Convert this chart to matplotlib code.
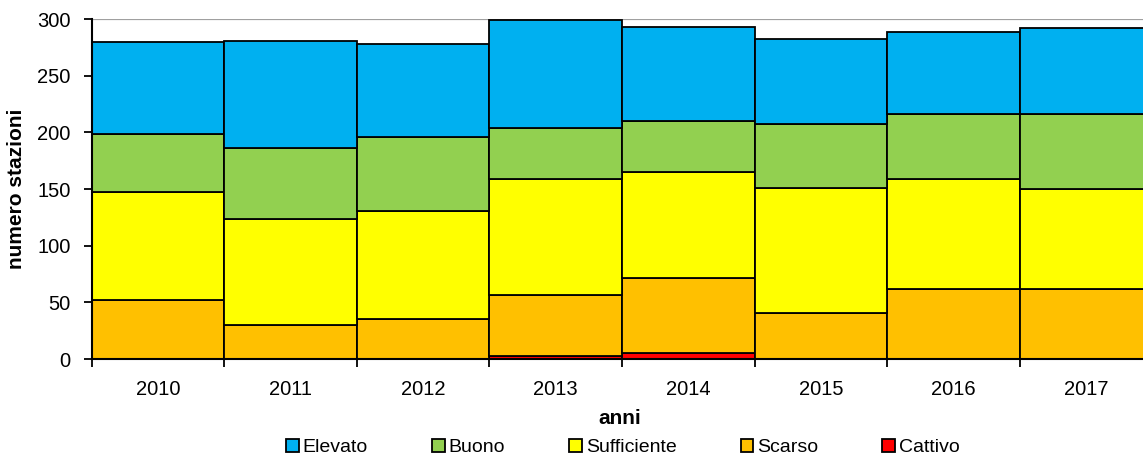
import matplotlib
matplotlib.use('Agg')
import matplotlib.pyplot as plt
import numpy as np

plt.rcParams['font.family'] = ['Liberation Sans', 'DejaVu Sans']

# Data
anni = ['2010', '2011', '2012', '2013', '2014', '2015', '2016', '2017']
cattivo = [0, 0, 0, 3, 5, 0, 0, 0]
scarso = [52, 30, 35, 54, 67, 41, 62, 62]
sufficiente = [95, 94, 96, 102, 93, 110, 97, 88]
buono = [52, 62, 65, 45, 45, 56, 57, 66]
elevato = [81, 95, 82, 95, 83, 75, 73, 76]

series = [
    ('Cattivo', cattivo, '#FF0000'),
    ('Scarso', scarso, '#FFC000'),
    ('Sufficiente', sufficiente, '#FFFF00'),
    ('Buono', buono, '#92D050'),
    ('Elevato', elevato, '#00B0F0'),
]

fig = plt.figure(figsize=(11.43, 4.54), dpi=100)
ax = fig.add_axes([0.0802, 0.209, 0.928, 0.749])

x = np.arange(len(anni))
bottom = np.zeros(len(anni))
handles = {}
for name, vals, col in series:
    b = ax.bar(x, vals, width=1.0, bottom=bottom, color=col,
               edgecolor='black', linewidth=1.3, label=name, zorder=2)
    handles[name] = b
    bottom += np.array(vals)

ax.set_xlim(-0.5, len(anni) - 0.5)
ax.set_ylim(0, 300)
ax.axhline(300, color='#a0a0a0', lw=1.6, zorder=1)

ax.set_yticks([0, 50, 100, 150, 200, 250, 300])
ax.set_xticks(x)
ax.set_xticklabels(anni)
ax.set_xticks(np.arange(-0.5, len(anni)), minor=True)
ax.tick_params(axis='x', which='major', length=0, labelsize=14.5, pad=15)
ax.tick_params(axis='x', which='minor', length=6, width=1.3, direction='out')
ax.tick_params(axis='y', length=6, width=1.3, labelsize=14.5, pad=9)

for s in ['top', 'right']:
    ax.spines[s].set_visible(False)
ax.spines['left'].set_linewidth(1.5)
ax.spines['bottom'].set_linewidth(1.5)

ax.set_ylabel('numero stazioni', fontsize=15, fontweight='bold')
ax.yaxis.set_label_coords(-0.0615, 0.5)
ax.set_xlabel('anni', fontsize=15, fontweight='bold')
ax.xaxis.set_label_coords(0.498, -0.148)

order = ['Elevato', 'Buono', 'Sufficiente', 'Scarso', 'Cattivo']
fig.legend([handles[n] for n in order], order, loc='center',
           bbox_to_anchor=(0.545, 0.015), ncol=5, frameon=False,
           fontsize=14, handlelength=0.65, handleheight=0.65,
           handletextpad=0.2, columnspacing=3.3)

plt.savefig('out.png', dpi=100)
plt.close()
